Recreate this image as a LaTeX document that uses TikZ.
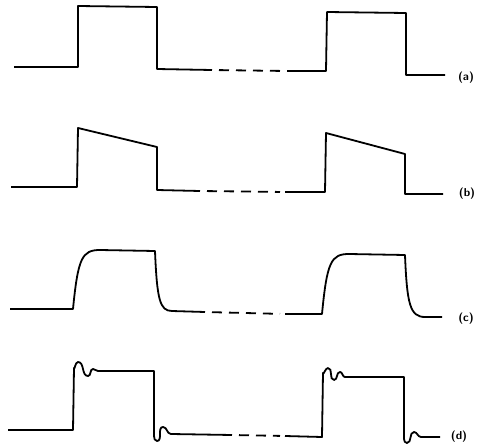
\documentclass[tikz,border=0pt]{standalone}
\usepackage{tikz}

\begin{document}
\begin{tikzpicture}[
    x=1pt, y=-1pt,
    wave/.style={line width=1.8pt, line join=round},
    gap/.style={line width=1.8pt, dash pattern=on 10pt off 7pt, shorten <=7pt, shorten >=5pt},
    tag/.style={font=\fontsize{11.5}{13}\selectfont\sffamily\bfseries, inner sep=1pt},
]
\useasboundingbox (0,0) rectangle (491,447);
% (a) square pulses
\draw[wave] (14,67) -- (78,67) -- (78,6) -- (157,7) -- (157,69) -- (212,70) coordinate (a1);
\draw[wave] (287,71) coordinate (a2) -- (326,71) -- (327,12) -- (406,13) -- (406,75) -- (445,75);
\draw[gap] (a1) -- (a2);
\node[tag] (la) at (466,78) {(a)};
% (b) sloping tops
\draw[wave] (11,187) -- (77,187) -- (78,128) -- (157,147) -- (157,190) -- (200,191) coordinate (b1);
\draw[wave] (285,192) coordinate (b2) -- (325,192) -- (326,133) -- (405,154) -- (405,194) -- (443,194);
\draw[gap] (b1) -- (b2);
\node[tag] (lb) at (467,194) {(b)};
% (c) rounded edges
\draw[wave] (10,309) -- (73,309) .. controls (78,258) and (82,250) .. (100,250) -- (155,251)
    .. controls (157,300) and (160,311) .. (172,311) -- (205,312) coordinate (c1);
\draw[wave] (285,314) coordinate (c2) -- (322,314) .. controls (327,262) and (331,254) .. (349,254) -- (405,255)
    .. controls (407,304) and (410,317) .. (425,317) -- (442,317);
\draw[gap] (c1) -- (c2);
\node[tag] (lc) at (466,319) {(c)};
% (d) ringing
\draw[wave] (8,430) -- (73,430) -- (74,368) to[out=-80,in=180] (78,362) to[out=0,in=180] (88,376)
    to[out=0,in=180] (93,369) to[out=0,in=180] (98,371) -- (154,371) -- (154,436)
    to[out=-90,in=180] (157,441) to[out=0,in=180] (163,427) to[out=0,in=180] (171,434) -- (232,435) coordinate (d1);
\draw[wave] (285,436) coordinate (d2) -- (322,437) -- (323,373) to[out=-80,in=180] (328,368) to[out=0,in=180] (334,380)
    to[out=0,in=180] (340,372) to[out=0,in=180] (345,377) -- (404,377) -- (404,439)
    to[out=-90,in=180] (407,443) to[out=0,in=180] (414,432) to[out=0,in=180] (421,437) -- (440,437);
\draw[gap] (d1) -- (d2);
\node[tag] (ld) at (459,437) {(d)};
\end{tikzpicture}
\end{document}
